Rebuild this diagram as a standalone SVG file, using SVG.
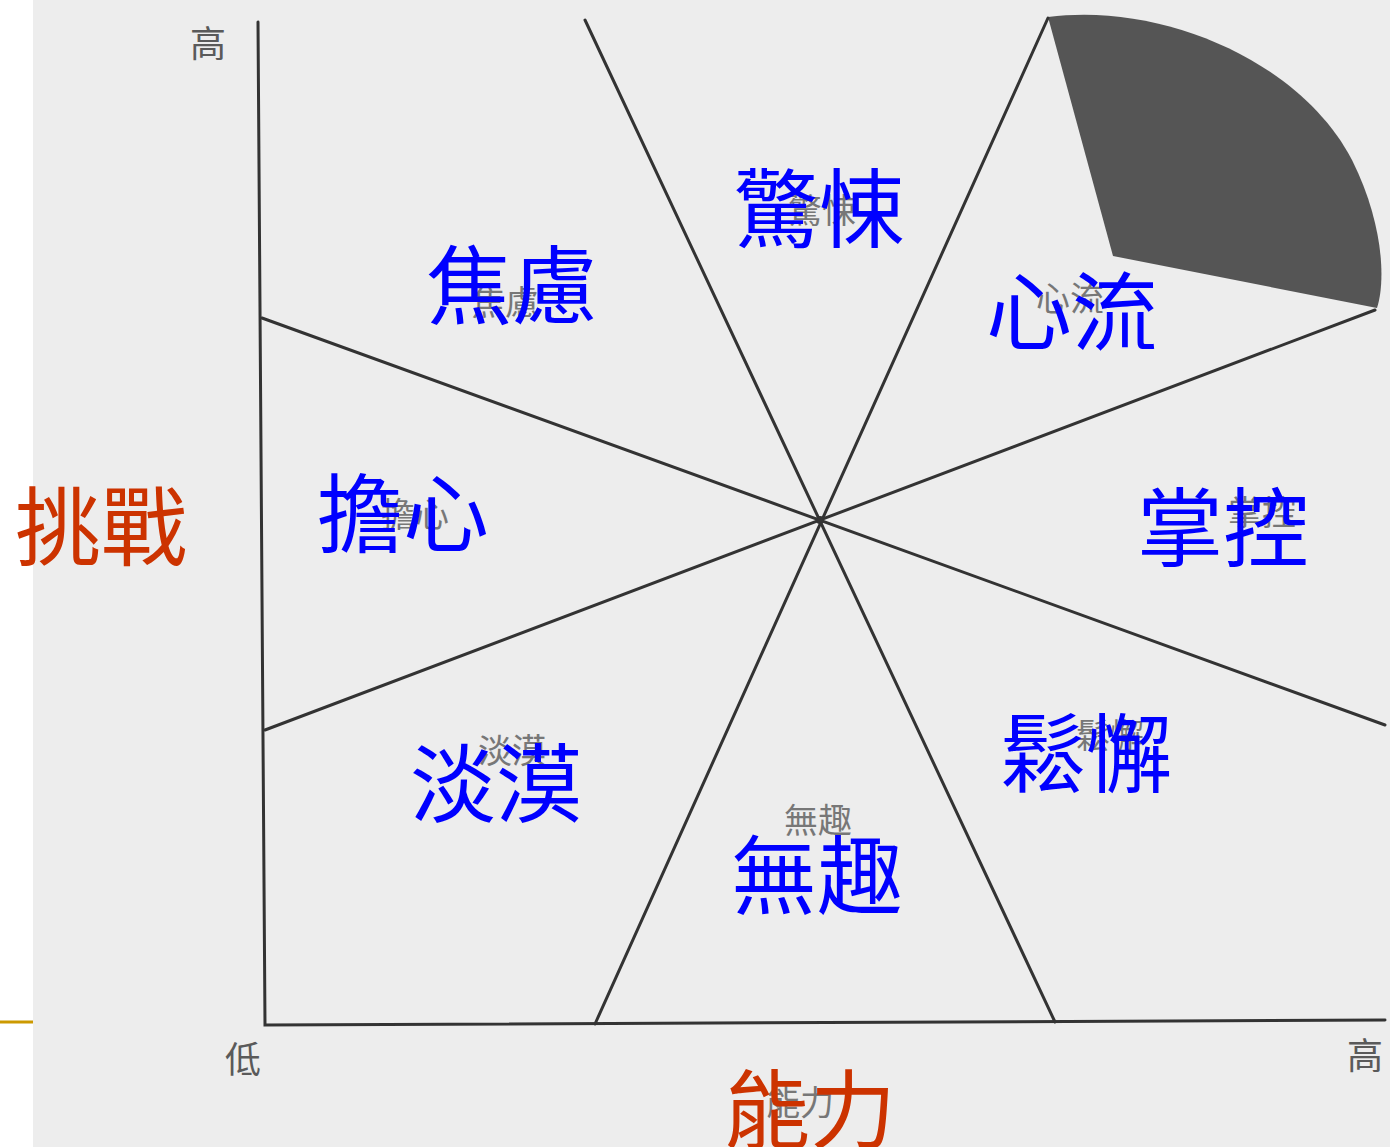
<svg xmlns="http://www.w3.org/2000/svg" width="1390" height="1147" viewBox="0 0 1390 1147">
<style>
.ln{stroke:#333;stroke-width:3;fill:none;stroke-linecap:round}
.blue{font-family:"Noto Sans CJK TC","Noto Sans CJK SC",sans-serif;font-size:86px;fill:#0000ff;text-anchor:middle;dominant-baseline:central}
.red{font-family:"Noto Sans CJK TC","Noto Sans CJK SC",sans-serif;font-size:86px;fill:#cc3300;text-anchor:middle;dominant-baseline:central}
.gray{font-family:"Noto Sans CJK TC","Noto Sans CJK SC",sans-serif;font-size:36px;fill:#5a5a5a;text-anchor:middle;dominant-baseline:central}
.faint{font-family:"Noto Sans CJK TC","Noto Sans CJK SC",sans-serif;font-size:34px;fill:#777;text-anchor:middle;dominant-baseline:central}
</style>
<rect x="0" y="0" width="1390" height="1147" fill="#ffffff"/>
<rect x="33" y="0" width="1357" height="1147" fill="#ededed"/>
<line x1="0" y1="1022" x2="33" y2="1022" stroke="#cc9900" stroke-width="3"/>
<g id="flow-sector">
<path d="M1048,17 C1160,2 1300,60 1352,160 C1383,222 1386,280 1377,308 L1113,256 Z" fill="#555"/>
</g>
<g id="connectors">
<polyline class="ln" points="258,22 265,1025 1385,1020"/>
<line class="ln" x1="585" y1="20" x2="1055" y2="1022"/>
<line class="ln" x1="1048" y1="18" x2="595" y2="1024"/>
<line class="ln" x1="262" y1="318" x2="1385" y2="725"/>
<line class="ln" x1="1375" y1="310" x2="265" y2="730"/>
<circle cx="820" cy="520" r="4" fill="#333"/>
</g>
<g id="axis-labels">
<text class="gray" x="208" y="41">高</text>
<text class="gray" x="243" y="1057">低</text>
<text class="gray" x="1365" y="1053">高</text>
</g>
<g id="print-labels">
<text class="faint" x="818" y="818" font-size="40">無趣</text>
<text class="faint" x="512" y="748">淡漠</text>
<text class="faint" x="1070" y="296">心流</text>
<text class="faint" x="415" y="512">擔心</text>
<text class="faint" x="1262" y="510">掌控</text>
<text class="faint" x="1110" y="733">鬆懈</text>
<text class="faint" x="505" y="300">焦慮</text>
<text class="faint" x="822" y="208">驚悚</text>
<text class="faint" x="800" y="1100">能力</text>
</g>
<g id="node-jingsong"><text class="blue" x="819" y="203">驚悚</text></g>
<g id="node-jiaolv"><text class="blue" x="512" y="280">焦慮</text></g>
<g id="node-xinliu"><text class="blue" x="1072" y="306">心流</text></g>
<g id="node-danxin"><text class="blue" x="403" y="508">擔心</text></g>
<g id="node-zhangkong"><text class="blue" x="1223" y="522">掌控</text></g>
<g id="node-songxie"><text class="blue" x="1086" y="748">鬆懈</text></g>
<g id="node-danmo"><text class="blue" x="496" y="778">淡漠</text></g>
<g id="node-wuqu"><text class="blue" x="817" y="870">無趣</text></g>
<g id="axis-challenge"><text class="red" x="101" y="521">挑戰</text></g>
<g id="axis-ability"><text class="red" x="810" y="1104">能力</text></g>
</svg>
